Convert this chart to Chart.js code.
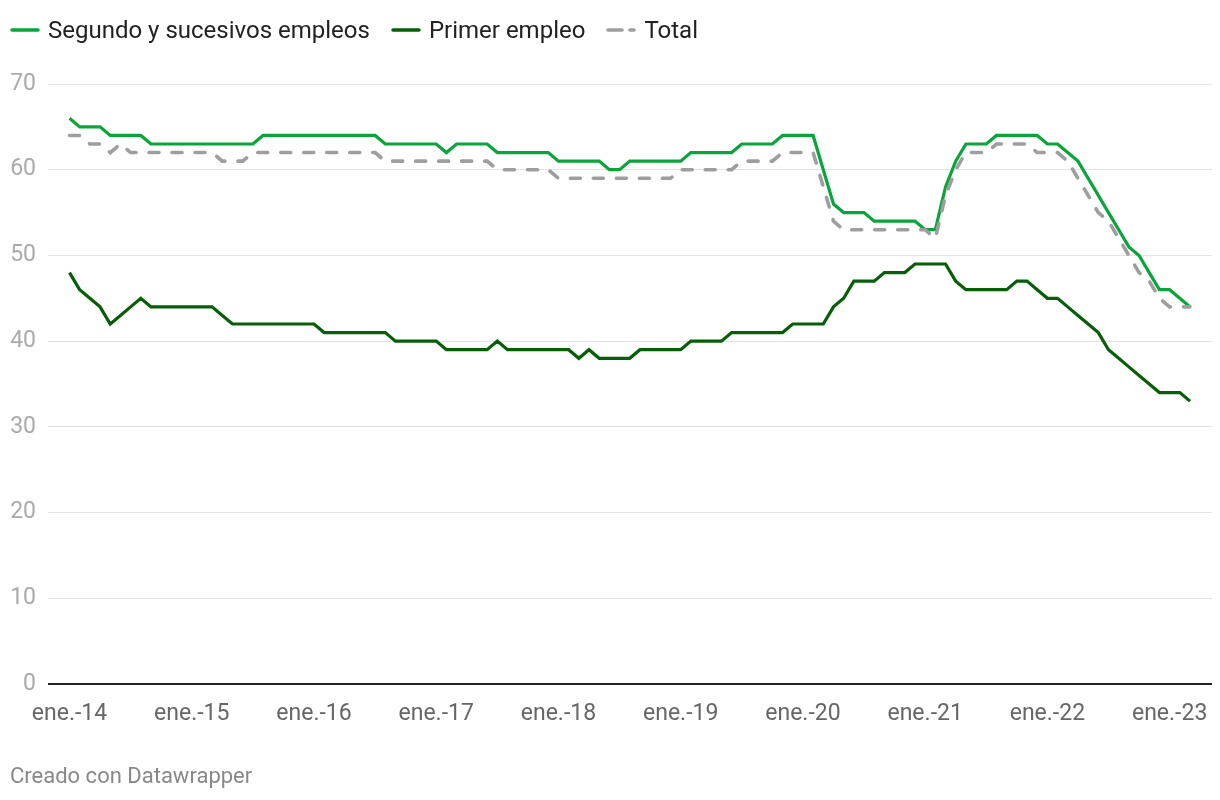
<!DOCTYPE html>
<html>
<head>
<meta charset="utf-8">
<script src="https://cdn.jsdelivr.net/npm/chart.js@4"></script>
<style>
  html, body { margin: 0; padding: 0; background: #fff; }
  body { width: 1220px; height: 800px; position: relative; overflow: hidden; font-family: Roboto, "Noto Sans", sans-serif; }
  #wrap { position: absolute; left: 0; top: 0; width: 1220px; height: 800px; }
  #legend { position: absolute; left: 10px; top: 15px; display: flex; align-items: center; font-size: 24px; line-height: 30px; color: #222; white-space: nowrap; }
  .item { display: flex; align-items: center; margin-right: 21px; }
  .item svg { margin-right: 8px; }
  #footer { position: absolute; left: 10px; top: 762px; font-size: 22px; line-height: 28px; color: #888; }
</style>
</head>
<body>
<div id="wrap"><canvas id="c" width="1220" height="800"></canvas></div>
<div id="legend"></div>
<div id="footer">Creado con Datawrapper</div>
<script>
// ---- data ----
const monthNames = ['ene.','feb.','mar.','abr.','may.','jun.','jul.','ago.','sep.','oct.','nov.','dic.'];
const years = ['14','15','16','17','18','19','20','21','22','23'];
const nPoints = 111; // ene.-14 .. mar.-23

const segundo = [
  66,65,65,65,64,64,64,64,63,63,63,63,
  63,63,63,63,63,63,63,64,64,64,64,64,
  64,64,64,64,64,64,64,63,63,63,63,63,
  63,62,63,63,63,63,62,62,62,62,62,62,
  61,61,61,61,61,60,60,61,61,61,61,61,
  61,62,62,62,62,62,63,63,63,63,64,64,
  64,64,60,56,55,55,55,54,54,54,54,54,
  53,53,58,61,63,63,63,64,64,64,64,64,
  63,63,62,61,59,57,55,53,51,50,48,46,
  46,45,44
];
const primer = [
  48,46,45,44,42,43,44,45,44,44,44,44,
  44,44,44,43,42,42,42,42,42,42,42,42,
  42,41,41,41,41,41,41,41,40,40,40,40,
  40,39,39,39,39,39,40,39,39,39,39,39,
  39,39,38,39,38,38,38,38,39,39,39,39,
  39,40,40,40,40,41,41,41,41,41,41,42,
  42,42,42,44,45,47,47,47,48,48,48,49,
  49,49,49,47,46,46,46,46,46,47,47,46,
  45,45,44,43,42,41,39,38,37,36,35,34,
  34,34,33
];
const total = [
  64,64,63,63,62,63,62,62,62,62,62,62,
  62,62,62,61,61,61,62,62,62,62,62,62,
  62,62,62,62,62,62,62,61,61,61,61,61,
  61,61,61,61,61,61,60,60,60,60,60,60,
  59,59,59,59,59,59,59,59,59,59,59,59,
  60,60,60,60,60,60,61,61,61,61,62,62,
  62,62,58,54,53,53,53,53,53,53,53,53,
  53,52,57,60,62,62,62,63,63,63,63,62,
  62,62,61,59,57,55,54,52,50,48,47,45,
  44,44,44
];
const yTicks = [0,10,20,30,40,50,60,70];

const labels = [];
for (let i = 0; i < nPoints; i++) {
  labels.push(monthNames[i % 12] + '-' + years[Math.floor(i / 12)]);
}
const janIdx = labels.map((l, i) => l.startsWith('ene.') ? i : -1).filter(i => i >= 0);

const series = [
  { name: 'Segundo y sucesivos empleos', values: segundo, color: '#0aa53a', dash: [], width: 3.2 },
  { name: 'Primer empleo', values: primer, color: '#065e06', dash: [], width: 3.2 },
  { name: 'Total', values: total, color: '#9e9e9e', dash: [10, 13], width: 3.6 }
];

// HTML legend
const leg = document.getElementById('legend');
series.forEach(s => {
  const it = document.createElement('div');
  it.className = 'item';
  const dashAttr = s.dash.length ? ` stroke-dasharray="14 8" stroke-linecap="round"` : ` stroke-linecap="round"`;
  it.innerHTML = `<svg width="30" height="10"><line x1="2" y1="5" x2="28" y2="5" stroke="${s.color}" stroke-width="3.5"${dashAttr}/></svg><span>${s.name}</span>`;
  leg.appendChild(it);
});

const ctx = document.getElementById('c').getContext('2d');
new Chart(ctx, {
  type: 'line',
  data: {
    labels: labels,
    datasets: series.map(s => ({
      label: s.name,
      data: s.values.map((v, i) => ({ x: i, y: v })),
      borderColor: s.color,
      backgroundColor: s.color,
      borderWidth: s.width,
      borderDash: s.dash,
      borderCapStyle: s.dash.length ? 'round' : 'butt',
      borderJoinStyle: 'miter',
      pointRadius: 0,
      tension: 0,
      fill: false
    })).reverse()
  },
  options: {
    responsive: false,
    animation: false,
    events: [],
    layout: { padding: { top: 84, right: 8, left: 0, bottom: 0 } },
    plugins: { legend: { display: false }, tooltip: { enabled: false } },
    scales: {
      x: {
        type: 'linear',
        min: -2.111,
        max: 112.16,
        grid: { display: false },
        border: { display: false },
        afterBuildTicks: (scale) => { scale.ticks = janIdx.map(v => ({ value: v })); },
        afterFit: (scale) => { scale.height = 116; },
        ticks: {
          autoSkip: false,
          maxRotation: 0,
          padding: 8,
          color: '#666',
          font: { family: 'Roboto', size: 23 },
          callback: (v) => labels[v]
        }
      },
      y: {
        min: 0,
        max: 70,
        afterBuildTicks: (scale) => { scale.ticks = yTicks.map(v => ({ value: v })); },
        afterFit: (scale) => { scale.width = 48; },
        border: { display: false },
        grid: {
          drawTicks: false,
          color: (c) => c.tick && c.tick.value === 0 ? '#222' : '#e3e3e3',
          lineWidth: (c) => c.tick && c.tick.value === 0 ? 2 : 1
        },
        ticks: {
          padding: 12,
          color: '#aaa',
          font: { family: 'Roboto', size: 23 }
        }
      }
    }
  }
});
</script>
</body>
</html>
